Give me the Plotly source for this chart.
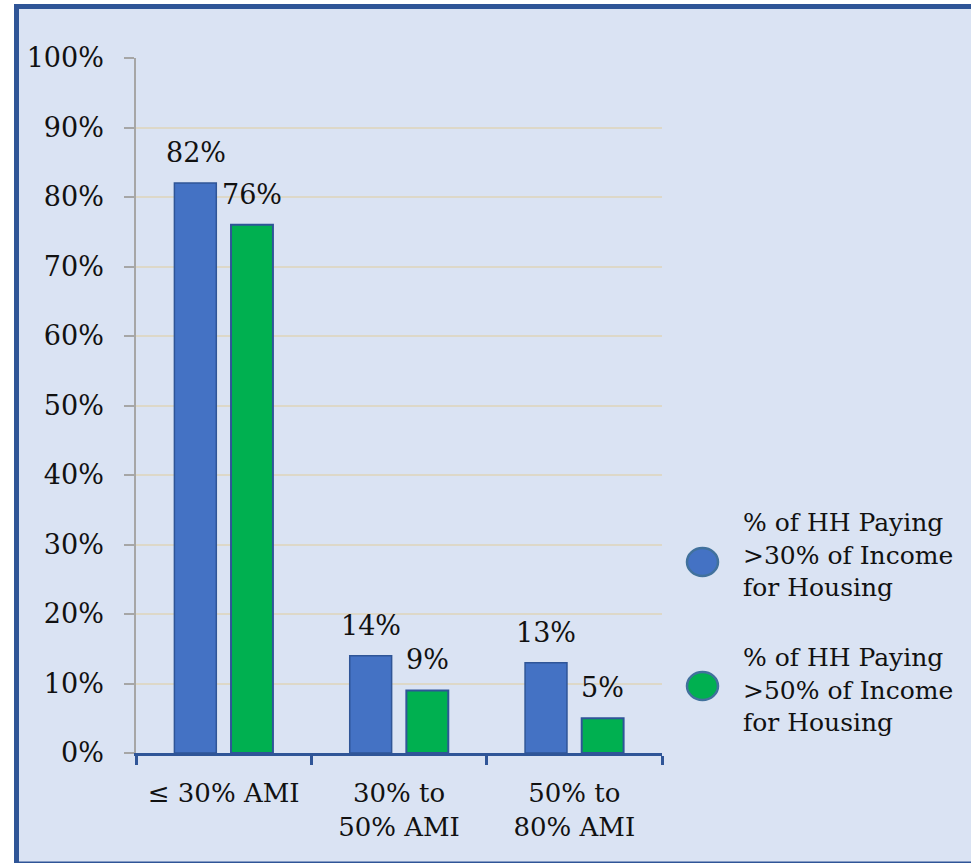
import plotly.graph_objects as go

categories = ['≤ 30% AMI', '30% to<br>50% AMI', '50% to<br>80% AMI']
over_30 = [82, 14, 13]
over_50 = [76, 9, 5]
series_names = ['% of HH Paying<br>>30% of Income<br>for Housing',
                '% of HH Paying<br>>50% of Income<br>for Housing']

blue = '#4472C4'
green = '#00B050'
edge = '#2F5597'
bg = '#DAE3F3'
font_name = 'DejaVu Serif'
text_color = '#111111'

# page pixels; body margin is removed below so the figure fills the window
W, H = 971, 863
L, R, T, B = 136, 662, 58, 753


def px(x):
    return (x - L) / (R - L)


def py(y):
    return (B - y) / (B - T)


fig = go.Figure()
fig.add_trace(go.Bar(x=categories, y=over_30, name='>30%', marker=dict(color=blue, line=dict(color=edge, width=1.5)),
                     showlegend=False, hoverinfo='y'))
fig.add_trace(go.Bar(x=categories, y=over_50, name='>50%', marker=dict(color=green, line=dict(color=edge, width=2)),
                     showlegend=False, hoverinfo='y'))

annotations = []
for vals, shift in [(over_30, -28), (over_50, 28)]:
    for cat, v in zip(categories, vals):
        annotations.append(dict(x=cat, y=v, xshift=shift, yshift=13, yanchor='bottom', showarrow=False,
                                text=f'{v}%', font=dict(family=font_name, size=27, color=text_color)))

# frame, then legend circles + text
shapes = [
    dict(type='rect', xref='paper', yref='paper', x0=px(16.5), x1=px(990), y0=py(864), y1=py(6.5),
         fillcolor=bg, line=dict(color=edge, width=5), layer='below'),
]
for (cy, ty), color, label in zip([(562, 555), (686, 690)], [blue, green], series_names):
    shapes.append(dict(type='circle', xref='paper', yref='paper', x0=px(687), x1=px(718), y0=py(cy + 14), y1=py(cy - 14),
                       fillcolor=color, line=dict(color='#41719C', width=2.5)))
    annotations.append(dict(xref='paper', yref='paper', x=px(741), y=py(ty), xanchor='left', yanchor='middle', align='left',
                            showarrow=False, text=label, font=dict(family=font_name, size=25, color=text_color)))

fig.update_layout(
    width=W, height=H,
    barmode='group', bargap=0.354, bargroupgap=0.26,
    paper_bgcolor='white', plot_bgcolor='rgba(0,0,0,0)',
    margin=dict(l=L, r=W - R, t=T, b=H - B, pad=0),
    font=dict(family=font_name, size=27, color=text_color),
    shapes=shapes, annotations=annotations,
    showlegend=False,
)
fig.update_yaxes(range=[0, 100], dtick=10, ticksuffix='%', showgrid=True, gridcolor='#DDD8C8', gridwidth=2,
                 showline=True, linecolor='#A6A6A6', linewidth=1.5, ticks='outside', ticklen=10, tickcolor='#A6A6A6',
                 tickwidth=1.5, ticklabelstandoff=15, zeroline=False, tickfont=dict(size=27))
fig.update_xaxes(showline=True, linecolor='#2F5597', linewidth=2.5, ticks='outside', tickson='boundaries', ticklen=9,
                 tickcolor='#2F5597', tickwidth=2.5, tickfont=dict(size=26), ticklabelstandoff=15)

fig.write_html('out.html', config={'displayModeBar': False},
               post_script="document.body.style.margin='0';document.body.style.overflow='hidden';")
